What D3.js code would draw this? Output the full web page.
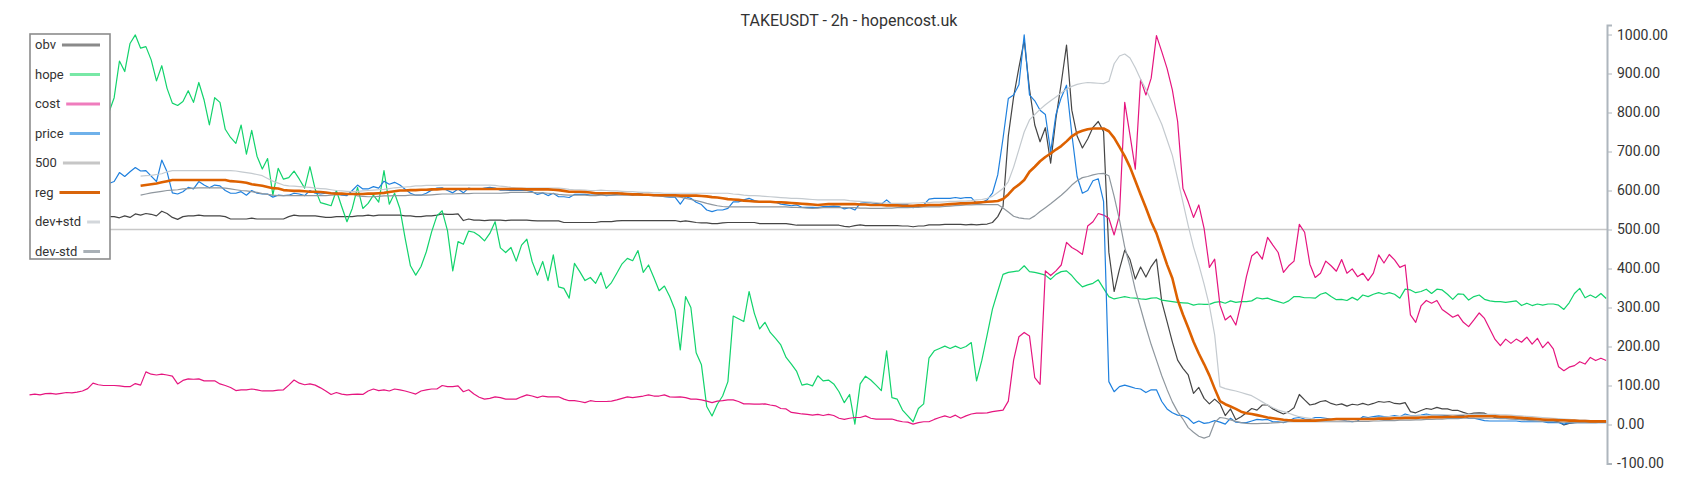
<!DOCTYPE html>
<html>
<head>
<meta charset="utf-8">
<script src="https://d3js.org/d3.v7.min.js"></script>
<style>
  body { margin: 0; background: #fff; }
  svg { display: block; font-family: Roboto, "Noto Sans", sans-serif; }
</style>
</head>
<body>
<div id="chart"></div>
<script>
// the first 15 candles sit behind the legend box; only cost is visible there
var hiddenCount = 15;
var costHidden = [76, 78, 76, 79, 80, 78, 80, 82, 81, 83, 86, 92, 106, 102, 100];

// series values, one per 2h candle after the legend edge
var hope = [
  800, 838, 932, 905, 977, 999, 965, 969, 935, 881,
  920, 862, 824, 818, 828, 856, 826, 877, 832, 768,
  838, 826, 757, 736, 721, 768, 693, 754, 688, 655,
  682, 588, 657, 629, 633, 650, 629, 606, 661, 603,
  569, 565, 561, 600, 559, 520, 554, 608, 554, 567,
  588, 570, 651, 565, 593, 554, 477, 407, 383, 405,
  443, 494, 535, 548, 497, 394, 469, 462, 496, 493,
  484, 471, 490, 520, 453, 441, 454, 419, 460, 475,
  418, 383, 418, 369, 435, 353, 349, 324, 413, 392,
  369, 377, 362, 390, 349, 364, 388, 412, 426, 420,
  446, 390, 409, 377, 343, 355, 328, 294, 191, 328,
  300, 184, 153, 46, 22, 52, 73, 110, 278, 271,
  264, 341, 285, 245, 262, 236, 221, 204, 172, 155,
  136, 101, 104, 99, 125, 112, 114, 104, 84, 56,
  77, 1, 104, 124, 114, 101, 87, 189, 69, 65,
  37, 22, 7, 41, 53, 170, 189, 195, 201, 195,
  201, 195, 200, 210, 112, 165, 230, 296, 341, 385,
  390, 392, 394, 407, 392, 390, 387, 383, 372, 385,
  392, 394, 382, 366, 353, 358, 362, 371, 349, 328,
  322, 325, 328, 325, 324, 322, 321, 324, 325, 319,
  317, 315, 313, 312, 311, 306, 309, 308, 308, 313,
  315, 311, 317, 313, 315, 315, 317, 325, 322, 324,
  319, 315, 311, 317, 328, 328, 325, 325, 324, 334,
  338, 328, 320, 321, 318, 326, 319, 332, 328, 334,
  338, 334, 338, 334, 324, 347, 345, 338, 341, 347,
  336, 347, 345, 334, 321, 335, 334, 319, 328, 332,
  321, 317, 315, 315, 313, 315, 317, 305, 311, 305,
  309, 306, 309, 309, 306, 295, 312, 336, 349, 325,
  332, 325, 336, 323
];

var cost = [
  100, 100, 99, 97, 97, 105, 101, 135, 129, 127,
  129, 127, 124, 104, 113, 117, 116, 117, 112, 112,
  112, 104, 100, 95, 87, 89, 89, 91, 89, 86,
  86, 86, 88, 89, 101, 114, 106, 102, 104, 101,
  94, 86, 77, 82, 78, 76, 77, 78, 77, 86,
  91, 87, 89, 86, 91, 89, 86, 82, 78, 86,
  89, 91, 91, 100, 97, 97, 99, 84, 89, 78,
  70, 65, 67, 71, 69, 65, 65, 65, 71, 76,
  73, 69, 73, 71, 71, 71, 65, 61, 61, 59,
  56, 61, 59, 59, 59, 60, 63, 67, 71, 69,
  71, 73, 76, 73, 73, 76, 71, 70, 71, 69,
  65, 65, 63, 60, 56, 60, 61, 63, 63, 59,
  53, 53, 52, 52, 53, 50, 48, 41, 40, 31,
  29, 27, 26, 24, 26, 23, 26, 23, 16, 13,
  16, 18, 18, 22, 16, 14, 14, 14, 14, 10,
  7, 6, 1, 5, 7, 7, 13, 18, 22, 18,
  24, 16, 22, 27, 29, 29, 30, 33, 35, 37,
  60, 165, 225, 236, 227, 120, 103, 394, 382, 394,
  409, 467, 454, 446, 436, 509, 520, 541, 537, 529,
  486, 537, 826, 742, 655, 885, 845, 888, 997, 956,
  913, 858, 777, 606, 571, 531, 563, 503, 403, 424,
  306, 268, 279, 255, 311, 379, 432, 443, 424, 480,
  460, 441, 390, 407, 419, 513, 493, 411, 377, 388,
  419, 407, 393, 423, 388, 399, 379, 388, 369, 388,
  435, 414, 436, 422, 403, 409, 281, 262, 304, 318,
  311, 318, 295, 285, 275, 281, 262, 251, 268, 286,
  272, 245, 218, 202, 219, 208, 219, 211, 224, 206,
  221, 197, 212, 194, 148, 138, 147, 151, 161, 155,
  172, 164, 170, 164
];

var price = [
  618, 623, 646, 636, 648, 659, 650, 651, 637, 623,
  678, 648, 594, 591, 597, 608, 604, 623, 614, 607,
  614, 612, 600, 593, 593, 597, 588, 600, 593, 591,
  591, 583, 588, 587, 588, 593, 591, 587, 600, 593,
  591, 593, 593, 594, 588, 587, 600, 614, 604, 604,
  610, 606, 624, 616, 621, 614, 603, 593, 588, 588,
  593, 601, 606, 607, 600, 594, 604, 594, 606, 603,
  603, 606, 608, 606, 601, 601, 600, 600, 600, 600,
  597, 590, 594, 587, 593, 584, 584, 582, 590, 590,
  590, 588, 588, 590, 587, 588, 590, 593, 591, 588,
  593, 590, 588, 587, 587, 584, 583, 583, 565, 584,
  580, 570, 564, 550, 546, 550, 550, 554, 571, 571,
  576, 580, 574, 571, 571, 570, 570, 565, 563, 561,
  563, 557, 557, 557, 556, 559, 559, 560, 559, 553,
  556, 550, 567, 569, 569, 567, 565, 576, 564, 563,
  563, 563, 556, 559, 563, 578, 580, 580, 580, 580,
  582, 580, 582, 582, 567, 569, 576, 593, 640, 734,
  836, 845, 871, 999, 845, 830, 806, 795, 699, 795,
  838, 870, 745, 636, 593, 600, 625, 630, 572, 110,
  84, 97, 101, 97, 93, 91, 82, 89, 89, 59,
  40, 30, 24, 23, 16, 3, 9, 3, 5, 10,
  6, 1, 16, 6, 5, 5, 9, 13, 12, 13,
  7, 7, 5, 9, 16, 18, 14, 13, 18, 18,
  16, 13, 14, 12, 9, 7, 9, 20, 18, 20,
  22, 20, 20, 23, 20, 27, 23, 23, 24, 27,
  24, 24, 24, 23, 20, 23, 23, 16, 16, 13,
  10, 9, 9, 9, 9, 9, 9, 7, 7, 7,
  7, 7, 5, 5, 5, 1, 4, 5, 5, 5,
  5, 5, 5, 5
];

var obv = [
  533, 533, 530, 535, 531, 540, 537, 541, 539, 535,
  547, 541, 531, 526, 533, 535, 535, 537, 535, 535,
  535, 535, 533, 527, 527, 527, 527, 529, 527, 527,
  527, 527, 527, 527, 533, 537, 535, 535, 535, 535,
  533, 531, 531, 533, 533, 533, 533, 535, 535, 537,
  535, 537, 537, 537, 537, 537, 535, 535, 533, 533,
  535, 535, 537, 540, 539, 539, 540, 523, 527, 524,
  524, 523, 524, 524, 524, 523, 524, 524, 524, 524,
  523, 522, 522, 522, 522, 522, 518, 518, 518, 518,
  518, 518, 518, 520, 520, 520, 522, 523, 523, 523,
  523, 523, 523, 523, 523, 523, 523, 523, 520, 522,
  520, 518, 517, 517, 515, 515, 517, 518, 518, 518,
  518, 518, 518, 515, 515, 515, 515, 515, 515, 513,
  511, 511, 511, 511, 511, 511, 511, 511, 511, 508,
  507, 510, 512, 510, 510, 510, 510, 510, 510, 510,
  509, 509, 507, 509, 509, 512, 512, 512, 513, 513,
  513, 513, 512, 513, 512, 513, 514, 518, 533, 559,
  740, 840, 915, 985, 860, 768, 725, 761, 670, 785,
  875, 973, 806, 740, 709, 732, 762, 777, 751, 442,
  341, 398, 447, 423, 373, 404, 378, 405, 424, 315,
  264, 212, 165, 144, 127, 80, 95, 67, 53, 65,
  53, 23, 40, 12, 20, 30, 41, 37, 50, 50,
  40, 33, 27, 33, 43, 77, 63, 50, 53, 59,
  61, 54, 50, 53, 47, 52, 50, 54, 50, 54,
  59, 57, 59, 54, 53, 56, 33, 30, 36, 41,
  39, 44, 40, 40, 36, 36, 31, 27, 29, 30,
  29, 23, 18, 16, 16, 18, 16, 14, 13, 12,
  13, 12, 9, 9, 7, -1, 3, 5, 6, 7,
  7, 7, 7, 7
];

var reg = [
  null, null, null, null, null, null, 612, 614, 616, 618,
  621, 624, 627, 627, 627, 627, 627, 627, 627, 627,
  627, 627, 627, 624, 623, 622, 620, 616, 614, 612,
  609, 606, 605, 601, 600, 599, 599, 598, 597, 597,
  596, 595, 593, 592, 592, 591, 591, 591, 591, 592,
  592, 593, 594, 596, 598, 600, 600, 601, 601, 602,
  602, 603, 603, 604, 604, 604, 604, 604, 604, 604,
  604, 604, 604, 604, 604, 604, 604, 604, 604, 603,
  603, 603, 603, 603, 602, 601, 599, 597, 597, 597,
  596, 595, 593, 593, 593, 593, 593, 592, 591, 590,
  590, 589, 589, 588, 588, 588, 588, 588, 587, 587,
  587, 587, 586, 585, 583, 582, 580, 578, 577, 576,
  574, 573, 572, 571, 571, 571, 570, 570, 569, 568,
  567, 566, 565, 564, 563, 564, 565, 565, 565, 565,
  565, 565, 564, 564, 563, 563, 563, 562, 562, 562,
  561, 561, 561, 562, 562, 563, 563, 563, 564, 565,
  566, 567, 567, 568, 569, 570, 571, 572, 573, 578,
  590, 605, 615, 627, 648, 661, 675, 686, 695, 705,
  714, 726, 739, 748, 753, 757, 759, 759, 759, 752,
  735, 712, 688, 660, 625, 590, 556, 520, 490, 450,
  410, 375, 320, 282, 248, 212, 182, 155, 126, 92,
  60, 52, 46, 40, 33, 29, 27, 24, 21, 18,
  16, 14, 12, 11, 10, 10, 10, 10, 10, 11,
  12, 13, 14, 14, 14, 14, 14, 14, 14, 14,
  15, 15, 15, 16, 16, 17, 17, 17, 18, 18,
  19, 19, 19, 20, 20, 20, 20, 21, 21, 21,
  21, 21, 21, 20, 20, 19, 18, 17, 16, 15,
  14, 13, 12, 12, 11, 11, 10, 10, 9, 9,
  8, 8, 8, 8
];

var devPlus = [
  null, null, null, null, null, null, 637, 638, 639, 641,
  643, 648, 651, 651, 651, 651, 651, 651, 651, 651,
  651, 651, 651, 651, 650, 648, 646, 644, 641, 638,
  631, 624, 619, 614, 612, 611, 610, 609, 608, 606,
  605, 604, 602, 600, 599, 598, 597, 598, 599, 600,
  601, 602, 603, 605, 607, 608, 609, 610, 612, 612,
  613, 613, 613, 614, 614, 614, 614, 614, 614, 614,
  614, 614, 614, 613, 611, 610, 608, 607, 606, 606,
  606, 606, 606, 606, 606, 606, 605, 603, 602, 602,
  601, 600, 600, 601, 600, 599, 599, 598, 597, 597,
  596, 595, 595, 594, 594, 593, 593, 593, 593, 593,
  593, 593, 593, 593, 593, 593, 593, 593, 591, 590,
  588, 587, 587, 586, 585, 584, 583, 582, 581, 580,
  580, 579, 578, 577, 576, 576, 576, 576, 576, 576,
  574, 573, 572, 571, 570, 569, 568, 568, 567, 567,
  567, 567, 568, 568, 569, 569, 570, 570, 571, 572,
  572, 573, 573, 574, 576, 577, 580, 585, 595, 605,
  623, 660, 705, 750, 781, 795, 808, 820, 830, 840,
  850, 860, 867, 872, 875, 877, 876, 875, 874, 880,
  925, 945, 950, 940, 915, 885, 860, 830, 800, 770,
  730, 690, 630, 570, 510, 455, 410, 360, 305, 230,
  97, 92, 89, 86, 82, 78, 74, 66, 58, 50,
  43, 37, 33, 29, 24, 20, 18, 16, 14, 13,
  13, 12, 12, 12, 12, 13, 14, 15, 16, 17,
  18, 19, 20, 20, 21, 22, 22, 22, 23, 23,
  24, 24, 25, 25, 25, 25, 26, 26, 26, 26,
  26, 26, 26, 25, 25, 24, 23, 22, 21, 20,
  19, 18, 17, 16, 15, 14, 13, 12, 11, 11,
  10, 10, 10, 10
];

var devMinus = [
  null, null, null, null, null, null, 588, 591, 594, 596,
  598, 600, 601, 602, 604, 605, 606, 607, 607, 607,
  607, 607, 606, 604, 602, 600, 599, 597, 595, 592,
  590, 588, 587, 587, 587, 587, 587, 587, 587, 587,
  587, 587, 588, 589, 589, 590, 591, 586, 585, 584,
  584, 585, 586, 586, 587, 587, 587, 588, 588, 588,
  588, 589, 590, 591, 591, 591, 592, 592, 592, 593,
  593, 593, 593, 593, 593, 594, 595, 595, 595, 595,
  595, 594, 594, 593, 592, 590, 589, 588, 588, 588,
  588, 587, 587, 588, 588, 588, 588, 588, 588, 588,
  588, 588, 588, 588, 586, 585, 584, 584, 583, 580,
  577, 574, 571, 567, 564, 561, 559, 558, 558, 558,
  558, 558, 558, 558, 558, 558, 558, 558, 558, 557,
  557, 556, 555, 554, 555, 556, 556, 556, 556, 556,
  556, 556, 555, 555, 554, 554, 554, 555, 555, 556,
  556, 556, 557, 557, 558, 558, 558, 558, 559, 560,
  561, 562, 563, 563, 564, 564, 564, 564, 564, 555,
  545, 534, 530, 528, 527, 535, 546, 556, 566, 577,
  588, 600, 614, 625, 633, 636, 640, 643, 644, 638,
  585, 525, 455, 405, 345, 298, 250, 205, 165, 125,
  90, 58, 33, 14, -8, -20, -30, -35, -30, 5,
  18, 16, 12, 8, 5, 3, 2, 2, 3, 3,
  4, 5, 6, 7, 7, 7, 7, 7, 7, 7,
  7, 7, 7, 7, 7, 7, 8, 8, 8, 9,
  9, 10, 10, 10, 11, 11, 11, 12, 12, 13,
  13, 14, 14, 15, 15, 15, 16, 16, 16, 16,
  16, 16, 16, 15, 15, 14, 13, 12, 11, 10,
  9, 8, 7, 7, 6, 6, 5, 5, 5, 5,
  5, 5, 6, 6
];

var level500 = 500;
var yTicks = [-100, 0, 100, 200, 300, 400, 500, 600, 700, 800, 900, 1000];
var legendNames = ["obv", "hope", "cost", "price", "500", "reg", "dev+std", "dev-std"];
var legendColors = ["#8a8a8a", "#78e8a6", "#ef7cbd", "#6fb1ea", "#c6c6c6", "#d9650a", "#d3d7db", "#a9b0b6"];

var width = 1700, height = 500;
var svg = d3.select("#chart").append("svg")
  .attr("width", width)
  .attr("height", height);

var total = hiddenCount + hope.length;
var x = d3.scaleLinear().domain([0, total - 1]).range([29.5, 1606.2]);
var y = d3.scaleLinear().domain([-100, 1024.4]).range([463.5, 25]);

// pad the series that are covered by the legend
function pad(arr, head) {
  var lead = head || d3.range(hiddenCount).map(function() { return null; });
  return lead.concat(arr);
}

// level line at 500
svg.append("line")
  .attr("x1", 29.5).attr("x2", 1607)
  .attr("y1", y(level500)).attr("y2", y(level500))
  .attr("stroke", "#c8c8c8")
  .attr("stroke-width", 1.6);

var line = d3.line()
  .defined(function(d) { return d != null; })
  .x(function(d, i) { return x(i); })
  .y(function(d) { return y(d); });

var series = [
  { data: pad(obv), color: "#454545", w: 1.2 },
  { data: pad(hope), color: "#12d36c", w: 1.2 },
  { data: pad(cost, costHidden), color: "#e5157f", w: 1.2 },
  { data: pad(price), color: "#1f80de", w: 1.2 },
  { data: pad(devPlus), color: "#c4cacf", w: 1.2 },
  { data: pad(devMinus), color: "#8f979e", w: 1.2 },
  { data: pad(reg), color: "#dd6100", w: 2.6 }
];

svg.append("g").selectAll("path")
  .data(series)
  .enter().append("path")
  .attr("d", function(s) { return line(s.data); })
  .attr("fill", "none")
  .attr("stroke", function(s) { return s.color; })
  .attr("stroke-width", function(s) { return s.w; })
  .attr("stroke-linejoin", "round");

// right axis
var axis = svg.append("g")
  .attr("transform", "translate(1607,0)")
  .call(d3.axisRight(y).tickValues(yTicks).tickSize(5).tickPadding(5)
    .tickFormat(function(d) { return d.toFixed(2); }));
axis.selectAll("path, line").attr("stroke", "#aeb6bd");
axis.select(".domain").attr("stroke-width", 2);
axis.selectAll("text")
  .attr("fill", "#333")
  .style("font-size", "14px")
  .style("font-family", "Roboto, sans-serif");

// title
svg.append("text")
  .attr("x", 849)
  .attr("y", 26)
  .attr("text-anchor", "middle")
  .attr("fill", "#333")
  .style("font-size", "16px")
  .text("TAKEUSDT - 2h - hopencost.uk");

// legend (white box drawn over the first candles)
var legend = svg.append("g");
legend.append("rect")
  .attr("x", 30).attr("y", 34)
  .attr("width", 80).attr("height", 225)
  .attr("fill", "#fff")
  .attr("stroke", "#8c8c8c")
  .attr("stroke-width", 1.6);

var item = legend.selectAll("g.item")
  .data(legendNames)
  .enter().append("g")
  .attr("class", "item")
  .attr("transform", function(d, i) { return "translate(0," + (45 + i * 29.5) + ")"; });

item.append("text")
  .attr("x", 35)
  .attr("y", 4)
  .attr("fill", "#333")
  .style("font-size", "13px")
  .text(function(d) { return d; });

item.each(function(d, i) {
  var g = d3.select(this);
  var tw = g.select("text").node().getComputedTextLength();
  g.append("line")
    .attr("x1", 35 + tw + 6).attr("x2", 100)
    .attr("y1", 0).attr("y2", 0)
    .attr("stroke", legendColors[i])
    .attr("stroke-width", 3);
});
</script>
</body>
</html>
